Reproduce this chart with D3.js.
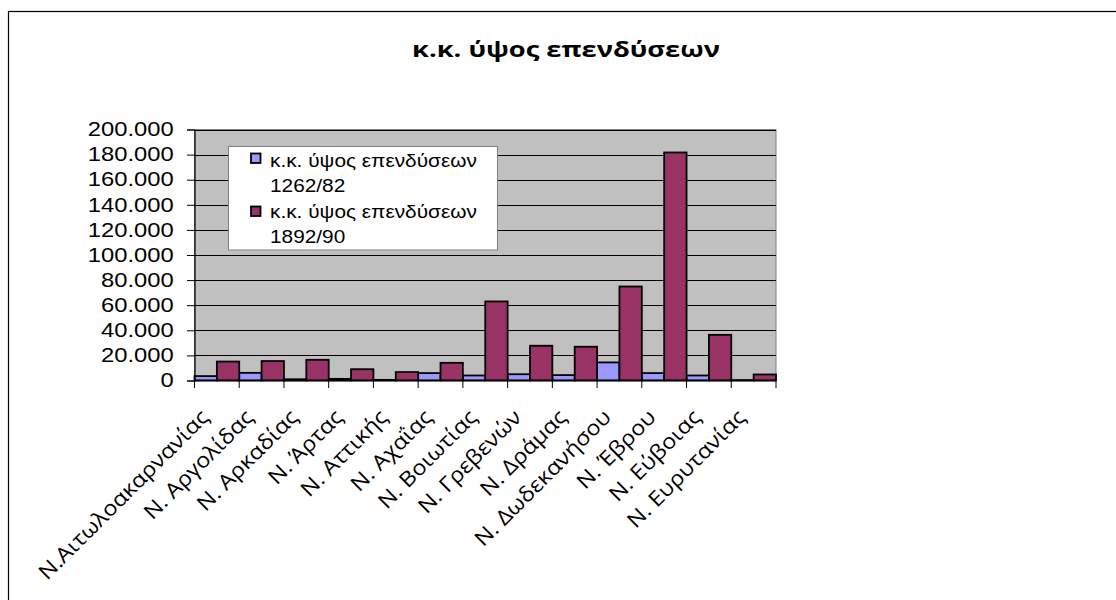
<!DOCTYPE html>
<html>
<head>
<meta charset="utf-8">
<script src="https://cdn.jsdelivr.net/npm/d3@7"></script>
<style>
  html, body { margin: 0; padding: 0; background: #fff; }
  svg { display: block; }
</style>
</head>
<body>
<svg id="chart" width="1116" height="600"></svg>
<script>
const title = "κ.κ. ύψος επενδύσεων";
const categories = [
  "N.Αιτωλοακαρνανίας", "N. Αργολίδας", "N. Αρκαδίας", "N. Άρτας", "N. Αττικής",
  "N. Αχαΐας", "N. Βοιωτίας", "N. Γρεβενών", "N. Δράμας", "N. Δωδεκανήσου",
  "N. Έβρου", "N. Εύβοιας", "N. Ευρυτανίας"
];
const seriesNames = ["κ.κ. ύψος επενδύσεων 1262/82", "κ.κ. ύψος επενδύσεων 1892/90"];
const legendLines = [["κ.κ. ύψος επενδύσεων", "1262/82"], ["κ.κ. ύψος επενδύσεων", "1892/90"]];
const values1262 = [3500, 6100, 1000, 1300, 500, 5900, 4000, 5000, 4300, 14400, 5900, 4000, 300];
const values1892 = [15100, 15500, 16500, 9000, 6700, 14100, 63000, 27700, 26900, 74900, 181700, 36400, 4800];
const yTicks = [0, 20000, 40000, 60000, 80000, 100000, 120000, 140000, 160000, 180000, 200000];
const colors = ["#9999FF", "#993366"];

const svg = d3.select("#chart");

// horizontal stretch factor so that a sample text reaches a target width
function stretch(sel, sample, target) {
  const t = svg.append("text").attr("font-family", sel.family).attr("font-size", sel.size)
    .attr("font-weight", sel.weight || "normal").text(sample);
  const w = t.node().getComputedTextLength();
  t.remove();
  return w > 0 ? target / w : 1;
}

// outer chart frame
svg.append("rect").attr("x", 8.5).attr("y", 11.5).attr("width", 1200).attr("height", 700)
  .attr("fill", "#fff").attr("stroke", "#000").attr("stroke-width", 1.2);

const pLeft = 194.5, pRight = 776, pTop = 129.5, pBottom = 380.5;

const x = d3.scaleBand().domain(categories).range([pLeft, pRight]).paddingInner(0).paddingOuter(0);
const xs = d3.scaleBand().domain([0, 1]).range([0, x.bandwidth()]).padding(0);
const y = d3.scaleLinear().domain([0, 200000]).range([pBottom, pTop]);

// plot area
svg.append("rect").attr("x", pLeft).attr("y", pTop).attr("width", pRight - pLeft).attr("height", pBottom - pTop)
  .attr("fill", "#C0C0C0").attr("stroke", "#808080").attr("stroke-width", 1);

// gridlines
svg.append("g").selectAll("line").data(yTicks.filter(d => d > 0)).join("line")
  .attr("x1", pLeft).attr("x2", pRight)
  .attr("y1", d => Math.round(y(d)) + 0.5).attr("y2", d => Math.round(y(d)) + 0.5)
  .attr("stroke", "#000").attr("stroke-width", 1);

// bars
const series = [values1262, values1892];
series.forEach((vals, si) => {
  svg.append("g").selectAll("rect").data(categories).join("rect")
    .attr("x", (c) => x(c) + xs(si))
    .attr("width", xs.bandwidth())
    .attr("y", (c, i) => y(vals[i]))
    .attr("height", (c, i) => pBottom - y(vals[i]))
    .attr("fill", colors[si])
    .attr("stroke", "#000").attr("stroke-width", 1.8);
});

// y axis
const yFont = { family: "Liberation Sans, Arial, sans-serif", size: 19.5 };
const fmt = d => d === 0 ? "0" : d3.format(",")(d).replace(/,/g, ".");
const yStretch = stretch(yFont, "200.000", 86);
const yAxis = d3.axisLeft(y).tickValues(yTicks).tickSize(7.5).tickPadding(13).tickFormat(fmt);
const gy = svg.append("g").attr("transform", `translate(${pLeft},0)`).call(yAxis);
gy.select(".domain").attr("stroke", "#000").attr("stroke-width", 1.2);
gy.selectAll(".tick line").attr("stroke", "#000");
gy.selectAll(".tick text")
  .attr("x", 0)
  .attr("transform", `translate(-20.8,0) scale(${yStretch},1)`)
  .attr("font-family", yFont.family).attr("font-size", yFont.size).attr("fill", "#000");

// x axis
svg.append("line").attr("x1", pLeft).attr("x2", pRight).attr("y1", pBottom).attr("y2", pBottom)
  .attr("stroke", "#000").attr("stroke-width", 1.4);
const bounds = categories.map(c => x(c)).concat([pRight]);
svg.append("g").selectAll("line").data(bounds).join("line")
  .attr("x1", d => d).attr("x2", d => d).attr("y1", pBottom).attr("y2", pBottom + 7.5)
  .attr("stroke", "#000").attr("stroke-width", 1);

const xFont = { family: "Open Sans, sans-serif", size: 21 };
const xStretch = stretch(xFont, categories[0], 230);
svg.append("g").selectAll("text").data(categories).join("text")
  .attr("transform", c => `translate(${x(c) + x.bandwidth() / 2 - 7},${pBottom + 38}) rotate(-45) scale(${xStretch},1)`)
  .attr("text-anchor", "end")
  .attr("font-family", xFont.family)
  .attr("font-size", xFont.size)
  .attr("fill", "#000")
  .text(c => c);

// title
const tFont = { family: "Open Sans, sans-serif", size: 22, weight: "bold" };
const tStretch = stretch(tFont, title, 308);
svg.append("text").attr("transform", `translate(566,57) scale(${tStretch},1)`).attr("text-anchor", "middle")
  .attr("font-family", tFont.family).attr("font-weight", "bold").attr("font-size", tFont.size)
  .attr("fill", "#000").text(title);

// legend
const lFont = { family: "Liberation Sans, Arial, sans-serif", size: 19 };
const lStretch = stretch(lFont, legendLines[0][0], 207);
const lg = svg.append("g");
lg.append("rect").attr("x", 228.5).attr("y", 146.5).attr("width", 269).attr("height", 103.5)
  .attr("fill", "#fff").attr("stroke", "#808080").attr("stroke-width", 1);
legendLines.forEach((lines, i) => {
  lg.append("rect").attr("x", 251).attr("y", 153.5 + i * 53).attr("width", 9.5).attr("height", 9.5)
    .attr("fill", colors[i]).attr("stroke", "#000").attr("stroke-width", 1.8);
  lines.forEach((t, j) => {
    lg.append("text").attr("transform", `translate(270,${167 + i * 51 + j * 25.3}) scale(${lStretch},1)`)
      .attr("font-family", lFont.family).attr("font-size", lFont.size)
      .attr("fill", "#000").text(t);
  });
});
</script>
</body>
</html>
